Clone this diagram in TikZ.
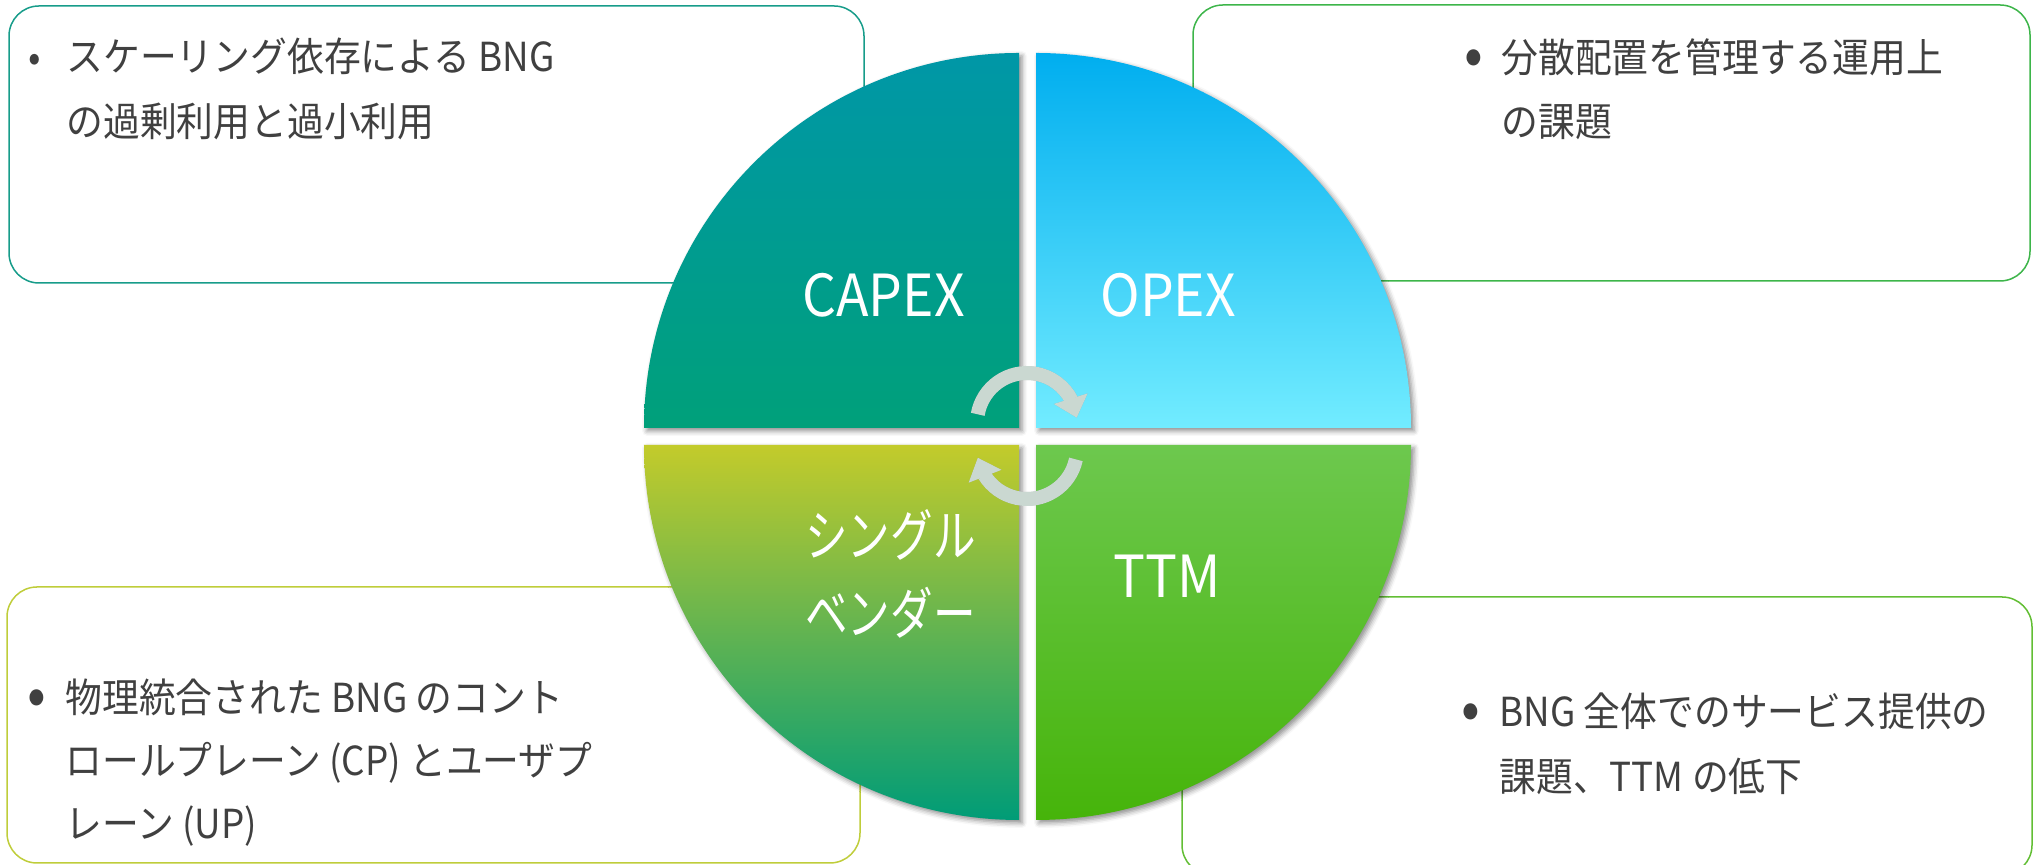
\documentclass[tikz,border=0pt]{standalone}
\usepackage{fontspec}
\setmainfont[FakeStretch=0.92]{Noto Sans CJK JP}
\newfontfamily\jplabel[FakeStretch=0.76]{Noto Sans CJK JP}
\usepackage{tikz}
\usetikzlibrary{
  arrows.meta,
  bending,
  shadows.blur}

\definecolor{txtgray}{HTML}{404040}
\definecolor{capexline}{HTML}{179C8A}
\definecolor{opexline}{HTML}{3DB54A}
\definecolor{vendorline}{HTML}{BFCD3A}
\definecolor{ttmline}{HTML}{62BE34}
\definecolor{capextop}{HTML}{0097A7}
\definecolor{capexbot}{HTML}{00A07A}
\definecolor{opextop}{HTML}{00AEEF}
\definecolor{opexbot}{HTML}{72ECFF}
\definecolor{vendortop}{HTML}{C3CB2B}
\definecolor{vendorbot}{HTML}{009C77}
\definecolor{ttmtop}{HTML}{6DC84E}
\definecolor{ttmbot}{HTML}{46B40A}
\definecolor{arrowgray}{HTML}{CAD8D1}

\begin{document}
\begin{tikzpicture}[x=0.5pt,y=0.5pt,
    box/.style={draw, line width=0.75pt, rounded corners=15pt},
    line/.style={anchor=base west, inner sep=0pt, text=txtgray, font=\fontsize{20pt}{24pt}\selectfont},
    dot/.style={anchor=base, inner sep=0pt, text=txtgray},
    quad/.style={blur shadow={shadow xshift=1.5pt, shadow yshift=-1.5pt, shadow blur radius=2.5pt, shadow opacity=45}},
    quadlabel/.style={anchor=base west, inner sep=0pt, text=white, font=\fontsize{29pt}{34pt}\selectfont},
    cyclearrow/.style={line width=7pt, draw=arrowgray, -{Triangle[width=17pt,length=10pt]}}]
  \useasboundingbox (0,0) rectangle (2034,865);

  % boxes behind the pie
  \draw[box, draw=capexline] (9,582) rectangle (864,859);
  \draw[box, draw=opexline] (1193,584) rectangle (2030,860);
  \draw[box, draw=vendorline] (7,2) rectangle (860,278);
  \draw[box, draw=ttmline] (1182,-10) rectangle (2032,268);

  % four quadrants
  \shade[quad, top color=capextop, bottom color=capexbot]
    (1019,437) -- (644,437) arc[start angle=180, end angle=90, radius=187.5pt] -- cycle;
  \shade[quad, top color=opextop, bottom color=opexbot]
    (1036,437) -- (1036,812) arc[start angle=90, end angle=0, radius=187.5pt] -- cycle;
  \shade[quad, top color=vendortop, bottom color=vendorbot]
    (1019,420) -- (1019,45) arc[start angle=270, end angle=180, radius=187.5pt] -- cycle;
  \shade[quad, top color=ttmtop, bottom color=ttmbot]
    (1036,420) -- (1411,420) arc[start angle=0, end angle=-90, radius=187.5pt] -- cycle;

  \node[quadlabel] (capex) at (802,548) {CAPEX};
  \node[quadlabel] (opex) at (1100,548) {OPEX};
  \node[quadlabel] (ttm) at (1113,267) {TTM};
  \node[quadlabel, font=\jplabel\fontsize{28pt}{34pt}\selectfont] (vendor1) at (805,308) {シングル};
  \node[quadlabel, font=\jplabel\fontsize{28pt}{34pt}\selectfont] (vendor2) at (805,230) {ベンダー};

  % cycle arrows
  \coordinate (topc) at (1027,442);
  \coordinate (botc) at (1027,416);
  \draw[cyclearrow, draw=black!60, opacity=0.3, xshift=1.5pt, yshift=-2pt]
    ([shift={(170:25pt)}]topc) arc[start angle=170, end angle=6, radius=25pt];
  \draw[cyclearrow, draw=black!60, opacity=0.3, xshift=1.5pt, yshift=-2pt]
    ([shift={(-12:25pt)}]botc) arc[start angle=-12, end angle=-170, radius=25pt];
  \draw[cyclearrow] ([shift={(170:25pt)}]topc) arc[start angle=170, end angle=6, radius=25pt];
  \draw[cyclearrow] ([shift={(-12:25pt)}]botc) arc[start angle=-12, end angle=-170, radius=25pt];

  % texts
  \node[dot, font=\fontsize{20pt}{24pt}\selectfont] (capexdot) at (35,793) {•};
  \node[line] (capex1) at (66,793) {スケーリング依存による BNG};
  \node[line] (capex2) at (66,728) {の過剰利用と過小利用};

  \node[dot, font=\fontsize{30pt}{34pt}\selectfont] (opexdot) at (1474,789) {•};
  \node[line] (opex1) at (1501,792) {分散配置を管理する運用上};
  \node[line] (opex2) at (1501,728) {の課題};

  \node[dot, font=\fontsize{30pt}{34pt}\selectfont] (vendordot) at (37,149) {•};
  \node[line] (vendor3) at (65,152) {物理統合された BNG のコント};
  \node[line] (vendor4) at (65,89) {ロールプレーン (CP) とユーザプ};
  \node[line] (vendor5) at (65,26) {レーン (UP)};

  \node[dot, font=\fontsize{30pt}{34pt}\selectfont] (ttmdot) at (1471,135) {•};
  \node[line] (ttm1) at (1499,138) {BNG 全体でのサービス提供の};
  \node[line] (ttm2) at (1499,73) {課題、TTM の低下};
\end{tikzpicture}
\end{document}
